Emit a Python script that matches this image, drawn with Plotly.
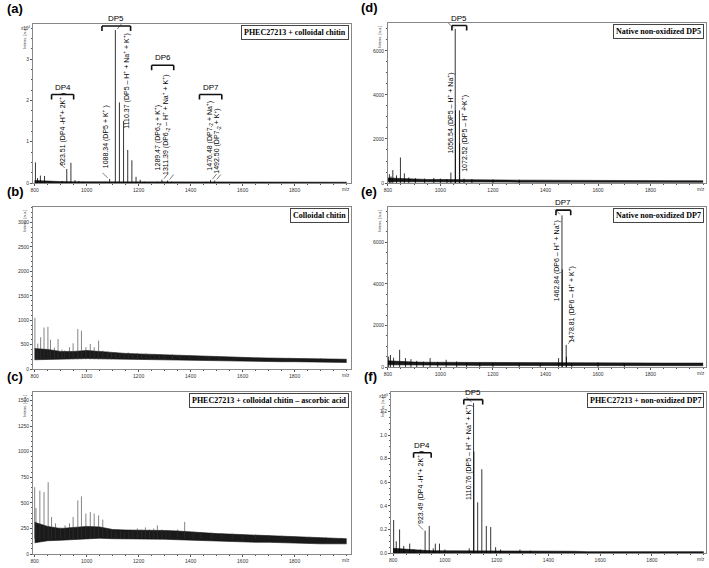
import plotly.graph_objects as go

W, H = 709, 568

# common m/z grid for the noise band envelopes
BASE_MZ = [800, 850, 900, 950, 1000, 1050, 1100, 1150, 1200, 1250, 1300, 1350, 1400,
           1450, 1500, 1550, 1600, 1650, 1700, 1750, 1800, 1850, 1900, 1950, 2000]

# (a) PHEC27213 + colloidal chitin, intensity x10^4
A_MZ = [803, 811, 822, 838, 860, 906, 923.5, 939.5, 955, 970, 985, 1072, 1088.3,
        1110.4, 1126, 1142, 1158, 1174, 1190, 1206, 1222, 1273, 1289.5, 1311.4, 1327,
        1460, 1476.5, 1492.5, 1508]
A_INT = [0.5, 0.12, 0.18, 0.17, 0.04, 0.05, 0.34, 0.49, 0.07, 0.05, 0.03, 0.03, 0.1,
         3.7, 1.95, 1.5, 0.8, 0.55, 0.15, 0.08, 0.03, 0.03, 0.08, 0.06, 0.03,
         0.03, 0.07, 0.06, 0.02]
A_LO = [0] * 25
A_HI = [0.06, 0.04, 0.035, 0.03, 0.03, 0.03, 0.03, 0.03, 0.025, 0.025, 0.025, 0.02, 0.02,
        0.02, 0.02, 0.02, 0.02, 0.02, 0.02, 0.02, 0.02, 0.02, 0.02, 0.02, 0.02]

# (b) Colloidal chitin
B_MZ = [801, 812, 823, 836, 851, 861, 876, 890, 905, 916, 934, 948, 966, 980, 997, 1014,
        1029, 1046, 1062, 1080, 1095, 1112, 1128, 1145, 1160, 1178, 1195, 1212, 1228, 1245,
        1262, 1280, 1300, 1330, 1360, 1395, 1430, 1470, 1510, 1560, 1610, 1660, 1720, 1780,
        1840, 1900, 1960]
B_INT = [1050, 520, 650, 850, 865, 600, 440, 615, 400, 380, 446, 527, 818, 784, 446, 514,
         446, 581, 378, 360, 330, 340, 330, 320, 340, 320, 330, 310, 320, 300,
         310, 300, 290, 300, 290, 280, 270, 260, 250, 250, 240, 240, 230, 230,
         220, 220, 210]
B_LO = [190, 200, 200, 210, 215, 210, 205, 200, 195, 190, 185, 180, 180,
        175, 170, 170, 165, 160, 155, 150, 150, 145, 140, 140, 135]
B_HI = [420, 400, 360, 360, 380, 360, 330, 320, 310, 300, 295, 290, 280,
        260, 245, 240, 235, 230, 225, 220, 215, 210, 210, 205, 200]

# (c) PHEC27213 + colloidal chitin - ascorbic acid
C_MZ = [800, 805, 820, 836, 852, 865, 880, 900, 917, 934, 948, 966, 980, 997, 1014, 1029,
        1046, 1062, 1079, 1095, 1112, 1130, 1145, 1162, 1178, 1195, 1210, 1226, 1242, 1258,
        1272, 1290, 1305, 1320, 1350, 1377, 1410, 1440, 1480, 1520, 1560, 1600, 1650, 1700,
        1750, 1800, 1860, 1920, 1980]
C_INT = [653, 450, 620, 605, 702, 362, 300, 260, 280, 300, 362, 524, 563, 395, 410, 395,
         378, 336, 250, 230, 220, 230, 220, 225, 220, 250, 240, 260, 240, 250,
         280, 240, 235, 230, 240, 314, 220, 215, 210, 205, 200, 195, 190, 185,
         180, 175, 170, 165, 160]
C_LO = [110, 130, 135, 140, 150, 155, 150, 150, 150, 150, 145, 140, 135,
        130, 130, 125, 120, 115, 115, 110, 110, 105, 100, 100, 100]
C_HI = [310, 270, 250, 260, 270, 265, 240, 235, 235, 235, 230, 225, 215,
        210, 200, 195, 190, 185, 180, 175, 170, 165, 160, 155, 150]

# (d) Native non-oxidized DP5
D_MZ = [806, 812, 819, 833, 848, 863, 880, 905, 940, 975, 1000, 1025, 1040, 1056.5, 1057.5,
        1072.5, 1073.5, 1090, 1120, 1200, 1300]
D_INT = [400, 300, 590, 350, 1160, 440, 250, 220, 200, 230, 200, 180, 480, 7000, 3300,
         3300, 1800, 200, 180, 160, 150]
D_LO = [60, 55, 55, 50, 50, 50, 45, 45, 45, 40, 40, 40, 40,
        35, 35, 35, 35, 30, 30, 30, 30, 30, 30, 30, 30]
D_HI = [230, 200, 170, 160, 160, 150, 150, 140, 135, 135, 130, 130, 125,
        125, 120, 120, 120, 115, 115, 110, 110, 110, 105, 105, 100]

# (e) Native non-oxidized DP7
E_MZ = [803, 810, 822, 845, 867, 888, 910, 935, 961, 990, 1022, 1062, 1100, 1150, 1200,
        1300, 1380, 1450, 1462.8, 1463.8, 1478.8, 1479.8, 1500, 1600, 1700]
E_INT = [500, 580, 450, 830, 430, 380, 300, 260, 430, 250, 350, 270, 200, 200, 200,
         180, 190, 430, 7300, 4700, 1070, 500, 160, 220, 160]
E_LO = [110, 100, 95, 90, 90, 85, 85, 80, 80, 80, 75, 75, 75,
        75, 70, 70, 70, 70, 65, 65, 65, 65, 65, 65, 65]
E_HI = [300, 260, 240, 230, 230, 220, 210, 210, 200, 200, 200, 200, 200,
        200, 195, 195, 195, 195, 195, 195, 195, 190, 190, 190, 190]

# (f) PHEC27213 + non-oxidized DP7, intensity x10^5
F_MZ = [802, 812, 825, 841, 864, 880, 905, 923.5, 939.5, 955, 963, 979, 1000, 1094,
        1110.8, 1112, 1126.7, 1142.7, 1160, 1177, 1196, 1215, 1290, 1330]
F_INT = [0.28, 0.1, 0.2, 0.06, 0.08, 0.03, 0.03, 0.19, 0.23, 0.04, 0.08, 0.08, 0.03, 0.04,
         1.27, 0.86, 0.43, 0.71, 0.23, 0.22, 0.05, 0.03, 0.03, 0.02]
F_LO = [0] * 25
F_HI = [0.04, 0.03, 0.025, 0.02, 0.02, 0.02, 0.02, 0.02, 0.018, 0.015, 0.015, 0.015, 0.015,
        0.015, 0.015, 0.012, 0.012, 0.012, 0.012, 0.012, 0.012, 0.012, 0.012, 0.012, 0.012]

X_TICKS = [800, 1000, 1200, 1400, 1600, 1800]


def px_x(px):
    return px / W


def px_y(py):
    return 1 - py / H


PANELS = [
    dict(tag="(a)", box="PHEC27213 + colloidal chitin", mz=A_MZ, ints=A_INT, lo=A_LO, hi=A_HI,
         floor=0, stick="#000", px=(29, 349), py=(24, 184), xr=[793, 2017], yr=[0, 3.85],
         yt=[0, 1, 2, 3], ytt=["0", "1", "2", "3"], ymin=0.25, exp="x10<sup>4</sup>"),
    dict(tag="(b)", box="Colloidal chitin", mz=B_MZ, ints=B_INT, lo=B_LO, hi=B_HI,
         floor=200, stick="#333", px=(29, 349), py=(208, 371), xr=[793, 2017], yr=[0, 3320],
         yt=[0, 500, 1000, 1500, 2000, 2500, 3000], ytt=None, ymin=100, exp=None),
    dict(tag="(c)", box="PHEC27213 + colloidal chitin – ascorbic acid", mz=C_MZ, ints=C_INT,
         lo=C_LO, hi=C_HI, floor=150, stick="#333", px=(29, 349), py=(394, 557), xr=[793, 2017],
         yr=[0, 1584], yt=[0, 250, 500, 750, 1000, 1250, 1500], ytt=None, ymin=50, exp=None),
    dict(tag="(d)", box="Native non-oxidized DP5", mz=D_MZ, ints=D_INT, lo=D_LO, hi=D_HI,
         floor=0, stick="#000", px=(386, 706), py=(23, 184), xr=[800, 2011], yr=[0, 7272],
         yt=[0, 2000, 4000, 6000], ytt=None, ymin=500, exp=None),
    dict(tag="(e)", box="Native non-oxidized DP7", mz=E_MZ, ints=E_INT, lo=E_LO, hi=E_HI,
         floor=0, stick="#000", px=(386, 706), py=(208, 369), xr=[800, 2011], yr=[0, 7707],
         yt=[0, 2000, 4000, 6000], ytt=None, ymin=500, exp=None),
    dict(tag="(f)", box="PHEC27213 + non-oxidized DP7", mz=F_MZ, ints=F_INT, lo=F_LO, hi=F_HI,
         floor=0, stick="#000", px=(389, 706), py=(394, 556), xr=[791, 2009], yr=[0, 1.365],
         yt=[0, 0.2, 0.4, 0.6, 0.8, 1.0, 1.2], ytt=["0.0", "0.2", "0.4", "0.6", "0.8", "1.0", "1.2"],
         ymin=0.05, exp="x10<sup>5</sup>"),
]

# peak labels: panel index, label m/z, label bottom, text, peak m/z, peak top, pointer side
PEAK_LABELS = [
    (0, 906, 0.36, "923.51 (DP4 -H<sup>+</sup>+ 2K<sup>+</sup> )", 923.5, 0.34, -1),
    (0, 1071, 0.3, "1088.34 (DP5 + K<sup>+</sup> )", 1088.3, 0.1, -1),
    (0, 1154, 1.26, "1110.37 (DP5 – H<sup>+</sup> + Na<sup>+</sup> + K<sup>+</sup>)", 1110.4, 3.7, 1),
    (0, 1273, 0.26, "1289.47 (DP6<sub>-2</sub> + K<sup>+</sup>)", 1289.5, 0.08, 1),
    (0, 1304, 0.14, "1311.39 (DP6<sub>-2</sub> – H<sup>+</sup> + Na<sup>+</sup> + K<sup>+</sup>)", 1311.4, 0.06, 1),
    (0, 1472, 0.26, "1476.48 (DP7<sub>-2</sub> + Na<sup>+</sup>)", 1476.5, 0.07, 1),
    (0, 1500, 0.18, "1492.50 (DP7<sub>-2</sub> + K<sup>+</sup>)", 1492.5, 0.06, 1),
    (3, 1037, 1230, "1056.54 (DP5 – H<sup>+</sup> + Na<sup>+</sup>)", 1056.5, 7000, -1),
    (3, 1094, 400, "1072.52 (DP5 – H<sup>+</sup> + K<sup>+</sup>)", 1072.5, 3300, 1),
    (4, 1442, 3070, "1462.84 (DP6 – H<sup>+</sup> + Na<sup>+</sup>)", 1462.8, 7300, -1),
    (4, 1499, 1070, "1478.81 (DP6 – H<sup>+</sup> + K<sup>+</sup>)", 1478.8, 1070, 1),
    (5, 906, 0.23, "923.49 (DP4 -H<sup>+</sup>+ 2K<sup>+</sup> )", 923.5, 0.19, -1),
    (5, 1094, 0.43, "1110.76 (DP5 – H<sup>+</sup> + Na<sup>+</sup> + K<sup>+</sup>) ", 1110.8, 1.27, -1),
]

# DP group brackets: panel index, name, from m/z, to m/z, height
BRACKETS = [
    (0, "DP4", 865, 950, 2.14),
    (0, "DP5", 1059, 1169, 3.8),
    (0, "DP6", 1250, 1335, 2.85),
    (0, "DP7", 1434, 1520, 2.14),
    (3, "DP5", 1044, 1100, 7150),
    (4, "DP7", 1440, 1496, 7550),
    (5, "DP4", 879, 947, 0.85),
    (5, "DP5", 1073, 1146, 1.3),
]


def sticks(mz, ints, floor):
    xs, ys = [], []
    for m, v in zip(mz, ints):
        xs += [m, m, None]
        ys += [floor, v, None]
    return xs, ys


fig = go.Figure()
layout = {}
annotations = []
shapes = []

for i, p in enumerate(PANELS):
    n = "" if i == 0 else str(i + 1)
    xa, ya = "x" + n, "y" + n

    fig.add_trace(go.Scatter(x=BASE_MZ, y=p["lo"], xaxis=xa, yaxis=ya, mode="lines",
                             line=dict(width=0.6, color="#111"), hoverinfo="skip", showlegend=False))
    fig.add_trace(go.Scatter(x=BASE_MZ, y=p["hi"], xaxis=xa, yaxis=ya, mode="lines",
                             line=dict(width=0.6, color="#111"), fill="tonexty", fillcolor="#1a1a1a",
                             hoverinfo="skip", showlegend=False))
    xs, ys = sticks(p["mz"], p["ints"], p["floor"])
    fig.add_trace(go.Scatter(x=xs, y=ys, xaxis=xa, yaxis=ya, mode="lines",
                             line=dict(width=0.8 if p["floor"] == 0 else 0.6, color=p["stick"]),
                             hoverinfo="skip", showlegend=False))

    x0, x1 = p["px"]
    y0, y1 = p["py"]
    layout["xaxis" + n] = dict(
        domain=[px_x(x0), px_x(x1)], range=p["xr"], anchor=ya,
        tickmode="array", tickvals=X_TICKS, tickfont=dict(size=5, color="#333"),
        ticks="outside", ticklen=2, tickwidth=0.5, tickcolor="#555",
        minor=dict(tickmode="linear", tick0=800, dtick=50, ticks="outside", ticklen=1, tickwidth=0.4),
        showline=True, linecolor="#888", linewidth=0.6, mirror=True,
        showgrid=False, zeroline=False,
    )
    layout["yaxis" + n] = dict(
        domain=[px_y(y1), px_y(y0)], range=p["yr"], anchor=xa,
        tickmode="array", tickvals=p["yt"], ticktext=p["ytt"] or [str(v) for v in p["yt"]],
        tickfont=dict(size=5, color="#333"),
        ticks="outside", ticklen=2, tickwidth=0.5, tickcolor="#555",
        minor=dict(tickmode="linear", tick0=0, dtick=p["ymin"], ticks="outside", ticklen=1, tickwidth=0.4),
        showline=True, linecolor="#888", linewidth=0.6, mirror=True,
        showgrid=False, zeroline=False,
    )

    # panel letter
    annotations.append(dict(text="<b>" + p["tag"] + "</b>", x=px_x(x0 - 28 if i < 3 else x0 - 29),
                            y=px_y(y0 - 15), xref="paper", yref="paper", xanchor="left",
                            yanchor="middle", showarrow=False,
                            font=dict(size=13, family="Liberation Sans, Arial", color="#000")))
    # sample box
    annotations.append(dict(text="<b>" + p["box"] + "</b>", x=px_x(x1 - 2), y=px_y(y0 + 1),
                            xref="paper", yref="paper", xanchor="right", yanchor="top",
                            showarrow=False, bgcolor="white", bordercolor="#444", borderwidth=1,
                            borderpad=2,
                            font=dict(size=8, family="Liberation Serif, Times New Roman", color="#000")))
    # y axis title
    annotations.append(dict(text="Intens. [a.u.]", x=px_x(x0 - 8), y=px_y(y0 + 1),
                            xref="paper", yref="paper", xanchor="center", yanchor="top",
                            textangle=-90, showarrow=False, font=dict(size=4, color="#333")))
    # m/z label
    annotations.append(dict(text="m/z", x=px_x(x1 - 5), y=px_y(y1 + 2), xref="paper", yref="paper",
                            xanchor="center", yanchor="top", showarrow=False,
                            font=dict(size=4.5, color="#333")))
    if p["exp"]:
        annotations.append(dict(text=p["exp"], x=px_x(x0 - 1), y=px_y(y0 - 1), xref="paper",
                                yref="paper", xanchor="right", yanchor="top", showarrow=False,
                                font=dict(size=4.5, color="#333")))

for (k, lx, ly, text, pmz, pint, side) in PEAK_LABELS:
    n = "" if k == 0 else str(k + 1)
    annotations.append(dict(text=text, x=lx, y=ly, xref="x" + n, yref="y" + n,
                            xanchor="center", yanchor="bottom", textangle=-90, showarrow=False,
                            font=dict(size=7, family="Liberation Sans, Arial", color="#000")))
    # short pointer stroke next to the labelled peak
    if side < 0:
        dx0, dy0, dx1, dy1 = -7, 6, -2, 1
    else:
        dx0, dy0, dx1, dy1 = 2, 1, 6, 6
    shapes.append(dict(type="line", xref="x" + n, yref="y" + n, xsizemode="pixel", ysizemode="pixel",
                       xanchor=pmz, yanchor=pint, x0=dx0, x1=dx1, y0=dy0, y1=dy1,
                       line=dict(width=0.6, color="#222")))

for (k, name, b0, b1, by) in BRACKETS:
    n = "" if k == 0 else str(k + 1)
    shapes.append(dict(type="line", xref="x" + n, yref="y" + n, x0=b0, x1=b1, y0=by, y1=by,
                       line=dict(width=1.6, color="#111")))
    for bx in (b0, b1):
        shapes.append(dict(type="line", xref="x" + n, yref="y" + n, x0=bx, x1=bx,
                           ysizemode="pixel", yanchor=by, y0=0, y1=-5,
                           line=dict(width=1.6, color="#111")))
    annotations.append(dict(text=name, x=(b0 + b1) / 2, y=by, xref="x" + n, yref="y" + n,
                            xanchor="center", yanchor="bottom", yshift=1, showarrow=False,
                            font=dict(size=8, family="Liberation Sans, Arial", color="#000")))

fig.update_layout(
    width=W, height=H,
    margin=dict(l=0, r=0, t=0, b=0),
    paper_bgcolor="white", plot_bgcolor="white",
    font=dict(family="Liberation Sans, Arial", color="#222"),
    showlegend=False,
    annotations=annotations,
    shapes=shapes,
    **layout,
)

fig.write_html("out.html", config={"displayModeBar": False},
               post_script="document.body.style.margin='0px';")
